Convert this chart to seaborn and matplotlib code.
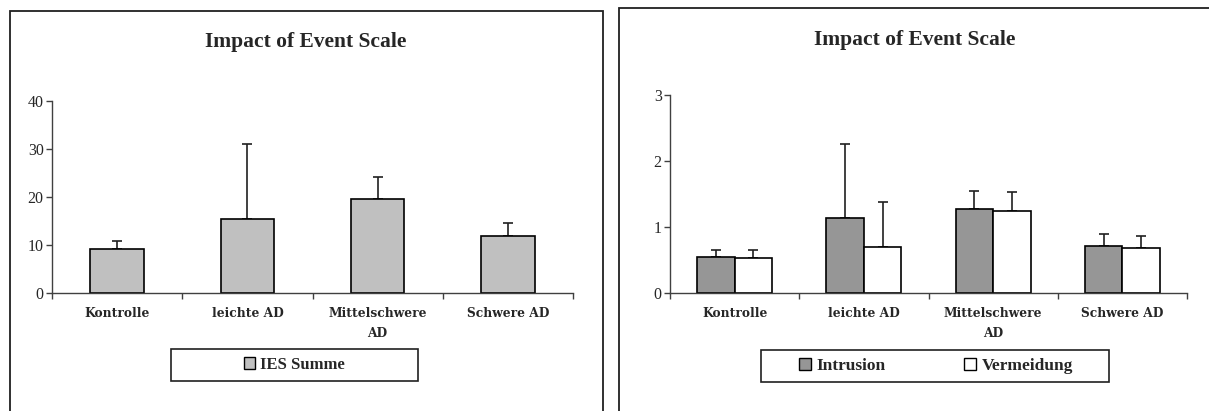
import numpy as np
import pandas as pd
import matplotlib.pyplot as plt
import seaborn as sns
from matplotlib.patches import Rectangle, Patch

# Data
groups = ['Kontrolle', 'leichte AD', 'Mittelschwere\nAD', 'Schwere AD']
ies_sum = [9.1, 15.4, 19.5, 11.9]
ies_sum_sd = [1.8, 15.7, 4.6, 2.7]
intrusion = [0.55, 1.13, 1.27, 0.71]
intrusion_sd = [0.10, 1.13, 0.28, 0.185]
vermeidung = [0.525, 0.695, 1.24, 0.675]
vermeidung_sd = [0.125, 0.685, 0.285, 0.19]
series = ['Intrusion', 'Vermeidung']

sns.set_theme(style='white')
plt.rcParams['font.family'] = ['Liberation Serif', 'DejaVu Serif']

W, H = 1209, 411
fig = plt.figure(figsize=(W / 100, H / 100), dpi=100)


def box(x0, y0, x1, y1):
    # pixel coords (top-left origin) -> figure fraction
    return [x0 / W, 1 - y1 / H, (x1 - x0) / W, (y1 - y0) / H]


def style_axis(ax, ymax, step):
    ax.set_xlim(-0.5, 3.5)
    ax.set_ylim(0, ymax)
    ax.set_yticks(np.arange(0, ymax + step / 2, step))
    ax.set_xticks(range(len(groups)))
    ax.set_xticks(np.arange(-0.5, 4, 1), minor=True)
    ax.set_xticklabels(groups, fontweight='bold', fontsize=8.8, linespacing=1.7,
                       family=['DejaVu Serif'])
    ax.tick_params(axis='x', which='major', length=0, pad=10)
    ax.tick_params(axis='x', which='minor', length=4, width=1, color='#404040', direction='out', bottom=True)
    ax.tick_params(axis='y', length=4, width=1, color='#404040', direction='out', left=True, labelsize=11.5, pad=2)
    for s in ['top', 'right']:
        ax.spines[s].set_visible(False)
    for s in ['left', 'bottom']:
        ax.spines[s].set_color('#404040')
        ax.spines[s].set_linewidth(1)
    ax.set_xlabel('')
    ax.set_ylabel('')
    ax.patch.set_alpha(0)


def add_errors(ax, means, sds, bars):
    xs = [b.get_x() + b.get_width() / 2 for b in bars]
    ax.errorbar(xs, means, yerr=[np.zeros(len(sds)), sds], fmt='none',
                ecolor='#202020', elinewidth=1.2, capsize=3.5, capthick=1.2, zorder=1)


# outer frames
fig.add_artist(Rectangle((10 / W, -0.05), (603 - 10) / W, 1.05 - 11 / H, transform=fig.transFigure,
                         fill=False, edgecolor='#202020', linewidth=1.3))
fig.add_artist(Rectangle((619 / W, -0.05), (1215 - 619) / W, 1.05 - 8 / H, transform=fig.transFigure,
                         fill=False, edgecolor='#202020', linewidth=1.3))

# left panel
ax1 = fig.add_axes(box(52, 101, 573, 293))
df1 = pd.DataFrame({'Gruppe': groups, 'IES Summe': ies_sum})
sns.barplot(data=df1, x='Gruppe', y='IES Summe', color='#c0c0c0', edgecolor='black',
            linewidth=1.2, width=0.41, saturation=1, errorbar=None, ax=ax1, zorder=2)
add_errors(ax1, ies_sum, ies_sum_sd, ax1.patches[:4])
style_axis(ax1, 40, 10)
fig.text(306 / W, 1 - 42 / H, 'Impact of Event Scale', ha='center', va='center',
         fontsize=15.5, fontweight='bold')

fig.add_artist(Rectangle((171 / W, 1 - 381 / H), (418 - 171) / W, (381 - 349) / H,
                         transform=fig.transFigure, fill=False, edgecolor='#202020', linewidth=1.2))
fig.legend(handles=[Patch(facecolor='#c0c0c0', edgecolor='black', label='IES Summe')],
           loc='center', bbox_to_anchor=(294.5 / W, 1 - 365 / H), frameon=False,
           prop={'weight': 'bold', 'size': 12}, handlelength=0.7, handleheight=0.7,
           handletextpad=0.3)

# right panel
ax2 = fig.add_axes(box(670, 95, 1187, 293))
df2 = pd.DataFrame({
    'Gruppe': groups * 2,
    'Skala': [series[0]] * 4 + [series[1]] * 4,
    'Wert': intrusion + vermeidung,
})
sns.barplot(data=df2, x='Gruppe', y='Wert', hue='Skala', palette=['#969696', '#ffffff'],
            edgecolor='black', linewidth=1.2, width=0.58, saturation=1, errorbar=None,
            ax=ax2, legend=False, zorder=2)
bars = [p for p in ax2.patches if p.get_height() > 0]
bars = sorted(bars, key=lambda b: b.get_x())
add_errors(ax2, intrusion, intrusion_sd, bars[0::2])
add_errors(ax2, vermeidung, vermeidung_sd, bars[1::2])
style_axis(ax2, 3, 1)
fig.text(915 / W, 1 - 40 / H, 'Impact of Event Scale', ha='center', va='center',
         fontsize=15.5, fontweight='bold')

fig.add_artist(Rectangle((761 / W, 1 - 382 / H), (1109 - 761) / W, (382 - 350) / H,
                         transform=fig.transFigure, fill=False, edgecolor='#202020', linewidth=1.2))
fig.legend(handles=[Patch(facecolor='#969696', edgecolor='black', label=series[0]),
                    Patch(facecolor='#ffffff', edgecolor='black', label=series[1])],
           loc='center', bbox_to_anchor=(936 / W, 1 - 366 / H), frameon=False, ncol=2,
           prop={'weight': 'bold', 'size': 12.5}, handlelength=0.7, handleheight=0.7,
           handletextpad=0.3, columnspacing=4.5)

fig.savefig('out.png', dpi=100)
